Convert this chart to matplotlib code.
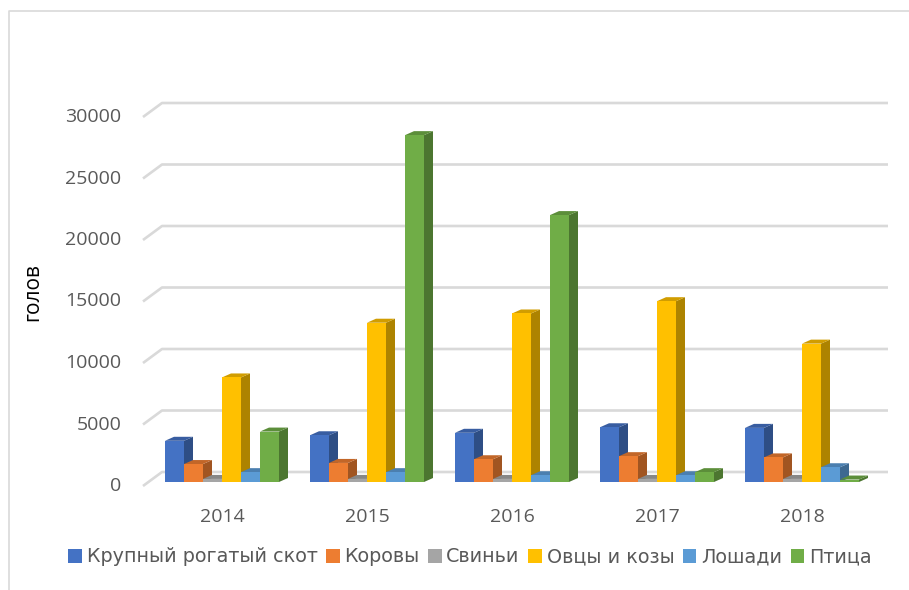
import matplotlib.pyplot as plt
from matplotlib.patches import Polygon, Patch
from matplotlib.lines import Line2D
import numpy as np

years = ["2014", "2015", "2016", "2017", "2018"]
series = ["Крупный рогатый скот", "Коровы", "Свиньи", "Овцы и козы", "Лошади", "Птица"]
krs = [3350, 3800, 4000, 4450, 4400]
cows = [1460, 1550, 1850, 2100, 2000]
pigs = [250, 250, 250, 250, 250]
sheep = [8500, 12950, 13700, 14700, 11250]
horses = [800, 800, 550, 550, 1200]
poultry = [4100, 28200, 21700, 800, 200]
values = [krs, cows, pigs, sheep, horses, poultry]
colors = ["#4472C4", "#ED7D31", "#A5A5A5", "#FFC000", "#5B9BD5", "#70AD47"]
yticks = [0, 5000, 10000, 15000, 20000, 25000, 30000]

W, H = 909, 590
fig = plt.figure(figsize=(W / 100, H / 100), dpi=100)
x0, x1, y0, y1 = 143, 888, 482, 95
ax = fig.add_axes([x0 / W, 1 - y0 / H, (x1 - x0) / W, (y0 - y1) / H])

px_x = 145.0          # pixels per category
px_y = 61.5 / 5000    # pixels per unit
ax.set_xlim(-(222 - x0) / px_x, 4 + (x1 - 802) / px_x)
ax.set_ylim(0, (y0 - y1) / px_y)
ax.axis("off")

# back wall gridlines with little side-wall stubs
wall_dy = 10 / px_y
grid_x0 = (162 - 222) / px_x
xmin, xmax = ax.get_xlim()
for t in yticks:
    ax.plot([xmin, grid_x0, xmax], [t - 4 / px_y, t + wall_dy, t + wall_dy],
            color="#D9D9D9", lw=1.9, zorder=1, solid_capstyle="butt", clip_on=False)
    ax.text(xmin - 0.15, t - 4 / px_y, f"{t}", ha="right", va="center", fontsize=14,
            color="#595959", family="Open Sans")

for i, y in enumerate(years):
    ax.text(i, -2850, y, ha="center", va="center", fontsize=14,
            color="#595959", family="Open Sans")

# 3d-looking columns
w = 19 / px_x
dx = 9 / px_x
dy = 4 / px_y


def shade(c, f):
    r, g, b = [int(c[k:k + 2], 16) / 255 for k in (1, 3, 5)]
    return (r * f, g * f, b * f)


for i in range(len(years)):
    left = i - 3 * w
    for j, vals in enumerate(values):
        v = vals[i]
        x = left + j * w
        z = 2 + j * 0.1
        ax.add_patch(Polygon([(x, 0), (x + w, 0), (x + w, v), (x, v)],
                             closed=True, fc=colors[j], ec="none", zorder=z + 0.02))
        ax.add_patch(Polygon([(x + w, 0), (x + w + dx, dy), (x + w + dx, v + dy), (x + w, v)],
                             closed=True, fc=shade(colors[j], 0.68), ec="none", zorder=z))
        ax.add_patch(Polygon([(x, v), (x + dx, v + dy), (x + w + dx, v + dy), (x + w, v)],
                             closed=True, fc=shade(colors[j], 0.82), ec="none", zorder=z + 0.01))

fig.text(33 / W, 1 - 292 / H, "голов", rotation=90, ha="center", va="center",
         fontsize=15, color="#000000", family="Open Sans")

handles = [Patch(facecolor=c, edgecolor="none") for c in colors]
fig.legend(handles, series, loc="center", bbox_to_anchor=(470 / W, 1 - 557 / H), ncol=6,
           frameon=False, handlelength=0.7, handleheight=0.7, handletextpad=0.25,
           columnspacing=0.45, prop={"family": "DejaVu Sans", "size": 13.8},
           labelcolor="#595959")

# chart frame (top and left edges)
fig.add_artist(Line2D([9 / W, 9 / W, 1], [0, 1 - 11 / H, 1 - 11 / H],
                      color="#D9D9D9", lw=1.2, transform=fig.transFigure))

fig.savefig("out.png", dpi=100)
